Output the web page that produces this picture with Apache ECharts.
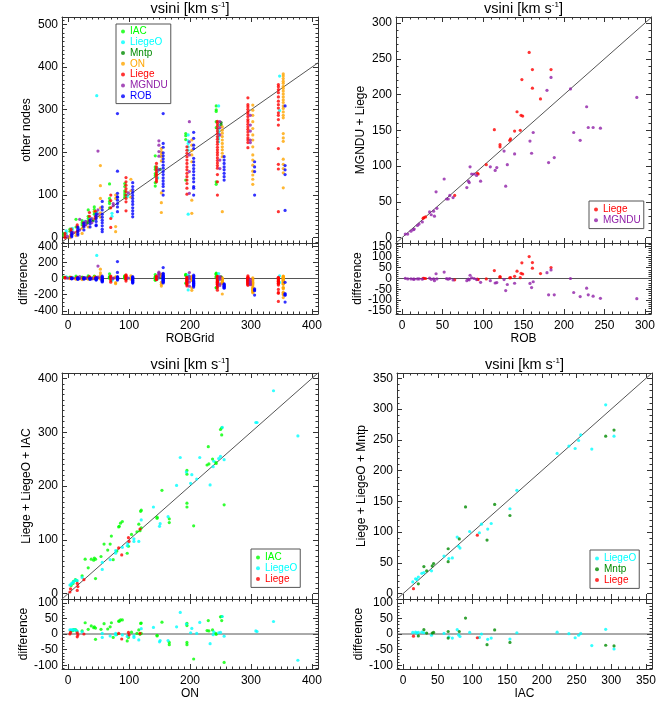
<!DOCTYPE html>
<html><head><meta charset="utf-8">
<script src="https://cdn.jsdelivr.net/npm/echarts@6/dist/echarts.min.js"></script>
<style>html,body{margin:0;padding:0;background:#fff}#c{width:667px;height:709px}</style>
</head><body><div id="c"></div>
<script>
// ---------------- DATA ----------------
// Panel 1: ROBGrid (x) vs other nodes (y); values per grid column, per node
const p1Cols = [0, 10, 20, 30, 40, 50, 75, 100, 150, 200, 250, 300, 350];
const p1Nodes = ['IAC', 'LiegeO', 'Mntp', 'ON', 'Liege', 'MGNDU', 'ROB'];
const p1Shift = [-7, -3, 1, 3, -5, -1, 6]; // per-node horizontal jitter (data units)
const p1IAC = [[10,5],[15,20],[25,43],[30,40,35],[65,45,50,38],[66,55,60,72],[126,92,80,70,85],[127,120,110,100,95,105],[192,166,160,150,145,129,121],[244,239,230,135],[309,300,296,272,258,131,125],[],[]];
const p1LiegeO = [[16,8,12],[18,22],[22],[38],[45],[333,57,60],[57,50],[100,96],[162,155,140],[241,227,221,213,205,55],[309,264,254,248,243,237,232,225],[],[379,298]];
const p1Mntp = [[],[],[],[35],[40],[],[],[],[160],[],[270,265],[],[]];
const p1ON = [[3,0],[5,12],[10,22],[25],[45,62],[169,122,92,70,58,48],[92,26,14,100],[137,110,95],[209,202,196,190,180,105,82,59],[229,217,205,194,178,88,57],[260,252,245,237,229,221,213,206,198,190,61],[311,299,287,272,256,241,229,213,194,182,170,156,147,137,125],[384,379,373,367,362,355,350,344,337,330,323,317,309,303,295,287,281,244,234,226,184,172,162,152,117]];
const p1Liege = [[5,0,10],[8,15,20],[15,25,30],[28,35],[40,59,50],[50,62,45],[100,87,70,45,24],[141,131,123,115,108,100,92,84,63],[174,166,160,155,150,146,140,135,131],[213,205,198,190,182,174,166,159,151,143,135,127,116,102],[273,268,262,256,250,244,237,231,225,219,212,206,200,194,187,181,175,169,163,148,131,100],[328,312,307,301,295,290,284,277,272,266,260,254,248,241,234,229,223,211],[359,354,347,340,330,320,312,304,293,287,277,264,209,172,161,61]];
const p1MGNDU = [[3],[12],[43,18],[30,38],[35,45],[203,55,65],[80,75],[105],[227,217,202,191,159],[272,225,194,155,104],[272,258,241,182,162],[287,264,250,229,223],[]];
const p1ROB = [[2,8,12,5],[6,15,20,25,10],[18,25,30,34],[25,32,38,42],[30,38,45,50,55,28],[14,20,28,35,41,48,55,65,72,85],[291,156,104,96,88,80,72,61,95],[129,120,113,106,99,92,85,78,70,63,56,49],[291,221,212,199,192,185,178,170,163,155,148,140,133,126,120,110,100],[247,233,217,209,186,178,170,162,155,147,139,131,120,116,100],[190,182,174,166,159,151,143,135],[178,166,155,100],[309,169,159,148,64]];

// Panel 2: ROB (x) vs MGNDU + Liege (y)
const p2Liege = [[157,259],[161,235],[184,235],[148,221],[161,209],[171,194],[142,176],[147,171],[149,170],[114,151],[139,149],[146,150],[121,130],[121,127],[134,138],[133,136],[104,102],[93,90],[94,89],[65,59],[27,28],[29,29],[26,27]];
const p2MGNDU = [[4,5],[7,5],[11,9],[14,11],[15,12],[19,17],[21,19],[25,22],[34,36],[36,32],[39,37],[40,30],[43,41],[42,64],[52,82],[55,54],[57,54],[59,59],[63,56],[80,70],[82,79],[83,77],[84,99],[86,89],[89,89],[92,87],[97,79],[109,99],[115,94],[117,98],[126,121],[128,72],[130,102],[139,117],[158,135],[160,118],[162,147],[179,206],[181,105],[184,224],[188,112],[208,208],[212,147],[220,136],[228,183],[230,154],[236,154],[245,153],[290,196]];

// Panel 3: ON (x) vs Liege + LiegeO + IAC (y)
const p3IAC = [[5,15],[8,19],[9,23],[12,26],[14,24],[23,33],[28,64],[33,48],[38,64],[42,62],[43,66],[45,28],[45,64],[54,69],[59,92],[65,81],[69,92],[71,107],[74,63],[80,79],[83,124],[84,125],[86,131],[89,134],[97,75],[99,88],[104,110],[113,115],[116,129],[118,117],[119,153],[120,122],[120,155],[146,140],[146,142],[154,192],[166,139],[166,132],[195,229],[195,222],[195,168],[195,161],[206,126],[230,273],[228,239],[231,241],[237,250],[242,244],[243,242],[250,305],[252,308],[252,295],[256,165]];
const p3LiegeO = [[3,16],[5,18],[7,20],[9,22],[12,25],[15,24],[23,30],[56,45],[56,58],[69,63],[78,75],[78,80],[89,86],[97,89],[98,93],[108,97],[108,102],[116,97],[120,137],[140,161],[150,125],[151,130],[164,143],[178,201],[184,253],[194,226],[201,205],[203,221],[211,213],[216,253],[233,202],[238,236],[239,246],[247,251],[250,255],[253,309],[256,249],[308,318],[310,318],[337,377],[377,293]];
const p3Liege = [[3,3],[4,9],[15,6],[15,19],[16,13],[26,26],[83,85],[88,72],[99,104],[100,97],[118,120]];

// Panel 4: IAC (x) vs Liege + LiegeO + Mntp (y)
const p4LiegeO = [[14,19],[18,24],[20,23],[22,27],[27,33],[30,34],[41,37],[59,61],[66,57],[71,58],[78,92],[80,77],[82,74],[96,101],[110,99],[113,113],[122,105],[127,114],[154,138],[164,168],[222,228],[239,240],[248,236],[253,249],[256,258],[272,235],[292,307],[304,256]];
const p4Mntp = [[22,16],[30,44],[34,37],[42,45],[44,49],[65,52],[65,73],[81,89],[90,141],[121,87],[132,145],[154,127],[292,256],[304,266]];
const p4Liege = [[15,8],[107,95]];

// ---------------- STYLE / LAYOUT ----------------
const FONT = '"Liberation Sans", Arial, Helvetica, sans-serif';
const AX = '#333';
const REF = '#555';
const COLORS = {IAC:'#00ff00', LiegeO:'#00ffff', Mntp:'#008b00', ON:'#ffa500', Liege:'#ff0000', MGNDU:'#9020a8', ROB:'#0000ff'};

function p1Points(cols, shift) {
  const out = [];
  cols.forEach((ys, i) => ys.forEach(y => out.push([p1Cols[i] + shift, y])));
  return out;
}
const p1Series = p1Nodes.map((n, i) => ({name: n, data: p1Points([p1IAC, p1LiegeO, p1Mntp, p1ON, p1Liege, p1MGNDU, p1ROB][i], p1Shift[i])}));

const panels = [
  {main:{left:62, top:17, width:256, height:226}, diffTop:243, diffH:71,
   x:[-10,410,4,10], y:[-12.5,517.5,5,10], d:[-440,440,4,4],
   xName:'ROBGrid', yName:'other nodes', series:p1Series,
   legend:{left:116, top:24, padding:[2,3,2,5], names:p1Nodes}},
  {main:{left:396, top:17, width:255, height:226}, diffTop:243, diffH:71,
   x:[-7.5,307.5,6,5], y:[-7.5,308.5,6,5], d:[-165,165,6,5],
   xName:'ROB', yName:'MGNDU + Liege',
   series:[{name:'Liege', data:p2Liege},{name:'MGNDU', data:p2MGNDU}],
   legend:{left:589, top:201, padding:[3,3,3,5], names:['Liege','MGNDU']}},
  {main:{left:62, top:373, width:256, height:226}, diffTop:599, diffH:70,
   x:[-10,410,4,10], y:[-10,410,4,10], d:[-112,112,4,5],
   xName:'ON', yName:'Liege + LiegeO + IAC',
   series:[{name:'IAC', data:p3IAC},{name:'LiegeO', data:p3LiegeO},{name:'Liege', data:p3Liege}],
   legend:{left:251, top:549, padding:[3,3,3,5], names:['IAC','LiegeO','Liege']}},
  {main:{left:397, top:373, width:255, height:226}, diffTop:599, diffH:70,
   x:[-8.75,358.75,7,5], y:[-8.75,358.75,7,5], d:[-112,112,4,5],
   xName:'IAC', yName:'Liege + LiegeO + Mntp',
   series:[{name:'LiegeO', data:p4LiegeO},{name:'Mntp', data:p4Mntp},{name:'Liege', data:p4Liege}],
   legend:{left:590, top:550, padding:[3,3,3,5], names:['LiegeO','Mntp','Liege']}}
];

const grid = [], xAxis = [], yAxis = [], series = [], legend = [], graphic = [];

function mkAxis(g, r, pos, labels, name, gap, labelMargin) {
  return {
    type:'value', gridIndex:g, min:r[0], max:r[1], splitNumber:r[2], position:pos,
    axisLine:{show:true, onZero:false, lineStyle:{color:AX, width:1}},
    axisTick:{show:true, inside:true, length:5, lineStyle:{color:AX, width:1}},
    minorTick:{show:true, splitNumber:r[3], length:2.5, lineStyle:{color:AX, width:1}},
    splitLine:{show:false}, minorSplitLine:{show:false},
    axisLabel:{show:!!labels, margin:labelMargin || 4, fontSize:12, color:'#000', fontFamily:FONT, showMinLabel:false, showMaxLabel:false},
    name: name || '', nameLocation:'middle', nameGap: gap || 0,
    nameTextStyle:{fontSize:12, color:'#000', fontFamily:FONT},
    silent:true
  };
}

panels.forEach((p, pi) => {
  const gm = 2*pi, gd = 2*pi + 1;
  grid.push({left:p.main.left, top:p.main.top, width:p.main.width, height:p.main.height});
  grid.push({left:p.main.left, top:p.diffTop, width:p.main.width, height:p.diffH});
  // main grid axes
  xAxis.push(mkAxis(gm, p.x, 'bottom', false));
  xAxis.push(mkAxis(gm, p.x, 'top', false));
  yAxis.push(mkAxis(gm, p.y, 'left', true, p.yName, 29));
  yAxis.push(mkAxis(gm, p.y, 'right', false));
  // diff grid axes
  xAxis.push(mkAxis(gd, p.x, 'bottom', true, p.xName, 16, 6));
  xAxis.push(mkAxis(gd, p.x, 'top', false));
  yAxis.push(mkAxis(gd, p.d, 'left', true, 'difference', 32.5));
  yAxis.push(mkAxis(gd, p.d, 'right', false));
  const xm = 2*gm, xd = 2*gd;
  // 1:1 reference line and zero line
  series.push({type:'line', xAxisIndex:xm, yAxisIndex:xm, data:[[p.x[0], p.x[0]],[Math.max(p.x[1], p.y[1]), Math.max(p.x[1], p.y[1])]],
    symbol:'none', lineStyle:{color:REF, width:1}, silent:true, animation:false, clip:true, z:1});
  series.push({type:'line', xAxisIndex:xd, yAxisIndex:xd, data:[[p.x[0],0],[p.x[1],0]],
    symbol:'none', lineStyle:{color:REF, width:1}, silent:true, animation:false, clip:true, z:1});
  p.series.forEach(s => {
    series.push({type:'scatter', name:s.name, xAxisIndex:xm, yAxisIndex:xm, data:s.data,
      symbol:'circle', symbolSize:3.2, itemStyle:{color:COLORS[s.name]}, silent:true, animation:false, clip:true, z:2});
    series.push({type:'scatter', name:s.name, xAxisIndex:xd, yAxisIndex:xd, data:s.data.map(([x, y]) => [x, y - x]),
      symbol:'circle', symbolSize:3.2, itemStyle:{color:COLORS[s.name]}, silent:true, animation:false, clip:true, z:2});
  });
  legend.push({
    orient:'vertical', left:p.legend.left, top:p.legend.top, padding:p.legend.padding,
    itemWidth:4, itemHeight:4, itemGap:0, icon:'circle', selectedMode:false,
    borderColor:'#555', borderWidth:1, borderRadius:0, backgroundColor:'transparent',
    textStyle:{fontSize:10, fontFamily:FONT, lineHeight:10.8},
    data:p.legend.names.map(n => ({name:n, textStyle:{color:COLORS[n]}}))
  });
  graphic.push({type:'text', x:p.main.left + p.main.width/2, y:p.main.top - 8.5, silent:true,
    style:{text:'vsini [km s{sup|-1}]', fontSize:14.5, fontFamily:FONT, fill:'#000', align:'center', verticalAlign:'middle',
      rich:{sup:{fontSize:8, lineHeight:8, verticalAlign:'top', fill:'#000', fontFamily:FONT}}}});
});

const chart = echarts.init(document.getElementById('c'), null, {renderer:'canvas'});
chart.setOption({animation:false, backgroundColor:'#fff', grid, xAxis, yAxis, series, legend, graphic, tooltip:{show:false}});
</script></body></html>
